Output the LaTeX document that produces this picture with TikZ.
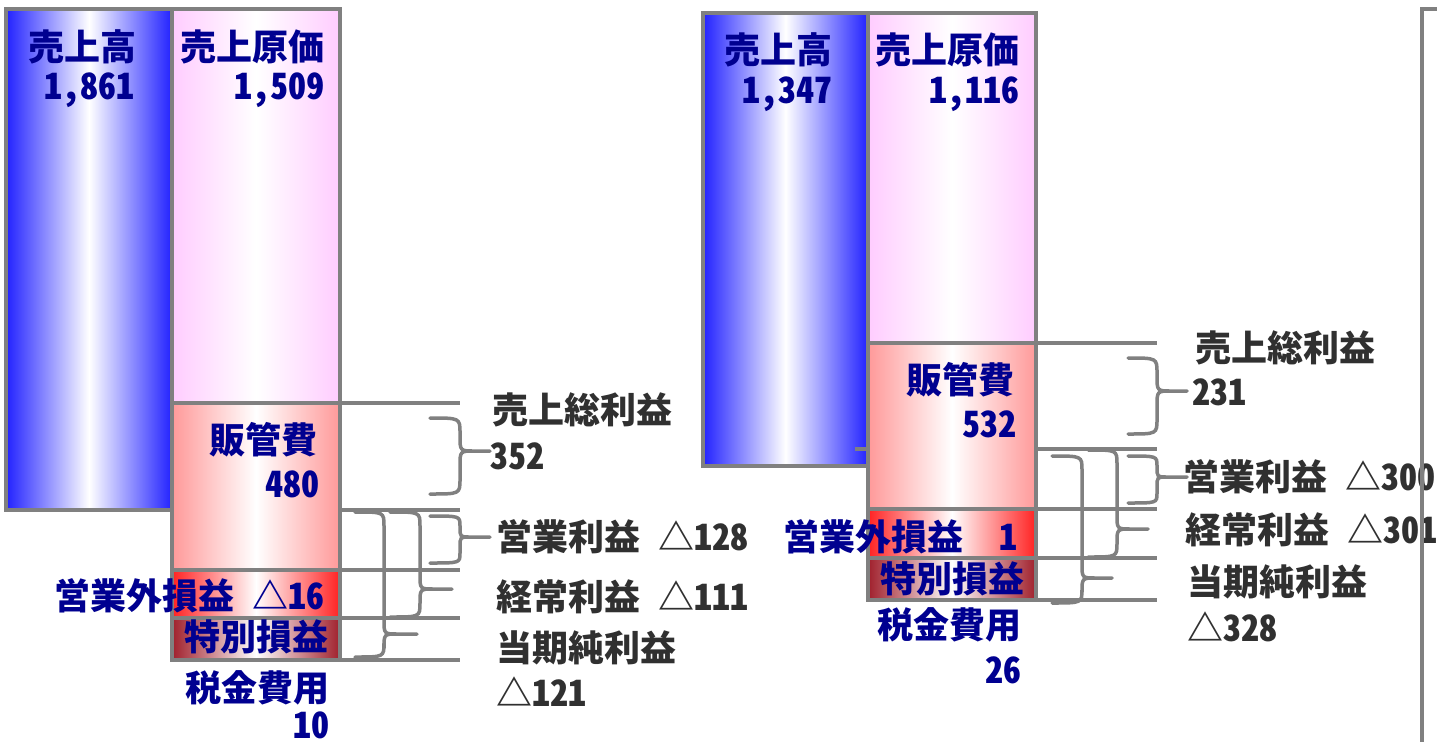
\documentclass[tikz,border=0pt]{standalone}
\usepackage{fontspec}
\newfontfamily\jpfont[RawFeature=+hwid]{Noto Sans CJK JP}
\usetikzlibrary{positioning}
\definecolor{framegrey}{HTML}{808080}
\definecolor{labblue}{HTML}{000090}
\definecolor{labgrey}{HTML}{303030}
\definecolor{salesblue}{HTML}{2222FF}
\definecolor{costpink}{HTML}{FFCCFF}
\definecolor{sgasalmon}{HTML}{FF9999}
\definecolor{nonopred}{HTML}{FF2222}
\definecolor{extrared}{HTML}{A0202C}
\tikzset{
  barframe/.style={draw=framegrey, line width=3.5pt},
  leader/.style={draw=framegrey, line width=3.5pt},
  bracket/.style={draw=framegrey, line width=3.5pt, line cap=round},
  bluelab/.style={text=labblue, inner sep=0pt, font=\jpfont\bfseries\fontsize{36}{40}\selectfont},
  greylab/.style={text=labgrey, inner sep=0pt, anchor=west, font=\jpfont\bfseries\fontsize{36}{40}\selectfont}
}
\begin{document}
\begin{tikzpicture}[x=1pt,y=-1pt]
        \useasboundingbox (0,0) rectangle (1437,742);

        % bars
        \foreach \xa/\ya/\xb/\yb/\col in {6/9/172/510/salesblue, 172/9/340/403/costpink, 172/403/340/570/sgasalmon, 172/570/340/618/nonopred, 172/618/340/660/extrared,
            703/13/868/466/salesblue, 868/13/1036/343/costpink, 868/343/1036/509/sgasalmon, 868/509/1036/558/nonopred, 868/558/1036/600/extrared} {
            \shade[left color=\col, right color=\col, middle color=white] (\xa,\ya) rectangle (\xb,\yb);
            \draw[barframe] (\xa,\ya) rectangle (\xb,\yb);
        }

        % leader lines
        \foreach \y in {403, 510, 570, 618, 660} {
            \draw[leader] (340,\y) -- (460,\y);
        }
        \foreach \y in {343, 449, 509, 558, 600} {
            \draw[leader] (1036,\y) -- (1157,\y);
        }
        \draw[leader] (855,449) -- (868,449);

        % brackets
        \foreach \xa/\ya/\yb/\xv/\xt/\yt/\r in {430/418/494/460/490/451/15, 430/516/563/460/490/537/10, 390/512/617/420/452/589/14, 355/512/657/384/417/634/14,
            1128/358/434/1157/1187/391/15, 1128/456/503/1157/1187/477/10, 1088/450/557/1117/1148/529/14, 1052/456/603/1082/1112/578/14} {
            \draw[bracket] (\xa,\ya) .. controls (\xv,\ya) .. (\xv,\ya+\r) -- (\xv,\yt-\r)
                .. controls (\xv,\yt) .. (\xv+\r,\yt) -- (\xt,\yt)
                (\xv+\r,\yt) .. controls (\xv,\yt) .. (\xv,\yt+\r) -- (\xv,\yb-\r)
                .. controls (\xv,\yb) .. (\xa,\yb);
        }

        % left year
        \node[bluelab, anchor=east] (salesA) at (137,47) {売上高};
        \node[bluelab, anchor=east] (salesAv) at (135,90) {1,861};
        \node[bluelab, anchor=east] (costA) at (325,47) {売上原価};
        \node[bluelab, anchor=east] (costAv) at (325,90) {1,509};
        \node[bluelab, anchor=east] (sgaA) at (318,440) {販管費};
        \node[bluelab, anchor=east] (sgaAv) at (320,484) {480};
        \node[bluelab, anchor=east] (nonopA) at (325,596) {営業外損益　△16};
        \node[bluelab] (extraA) at (256,637) {特別損益};
        \node[bluelab, anchor=east] (taxA) at (330,688) {税金費用};
        \node[bluelab, anchor=east] (taxAv) at (330,725) {10};

        \node[greylab] (grossA) at (492,410) {売上総利益};
        \node[greylab] (grossAv) at (490,456) {352};
        \node[greylab] (opA) at (496,537) {営業利益　△128};
        \node[greylab] (ordA) at (496,597) {経常利益　△111};
        \node[greylab] (netA) at (496,648) {当期純利益};
        \node[greylab] (netAv) at (496,692) {△121};

        % right year
        \node[bluelab, anchor=east] (salesB) at (833,50) {売上高};
        \node[bluelab, anchor=east] (salesBv) at (833,94) {1,347};
        \node[bluelab, anchor=east] (costB) at (1020,50) {売上原価};
        \node[bluelab, anchor=east] (costBv) at (1020,94) {1,116};
        \node[bluelab, anchor=east] (sgaB) at (1015,380) {販管費};
        \node[bluelab, anchor=east] (sgaBv) at (1017,424) {532};
        \node[bluelab, anchor=east] (nonopB) at (1018,537) {営業外損益 \ 1};
        \node[bluelab] (extraB) at (952,579) {特別損益};
        \node[bluelab, anchor=east] (taxB) at (1022,625) {税金費用};
        \node[bluelab, anchor=east] (taxBv) at (1022,670) {26};

        \node[greylab] (grossB) at (1195,348) {売上総利益};
        \node[greylab] (grossBv) at (1192,392) {231};
        \node[greylab] (opB) at (1183,477) {営業利益 △300};
        \node[greylab] (ordB) at (1185,530) {経常利益 △301};
        \node[greylab] (netB) at (1187,582) {当期純利益};
        \node[greylab] (netBv) at (1187,627) {△328};

        \draw[leader] (1437,9) -- (1422,9) -- (1422,742);
    \end{tikzpicture}
\end{document}
